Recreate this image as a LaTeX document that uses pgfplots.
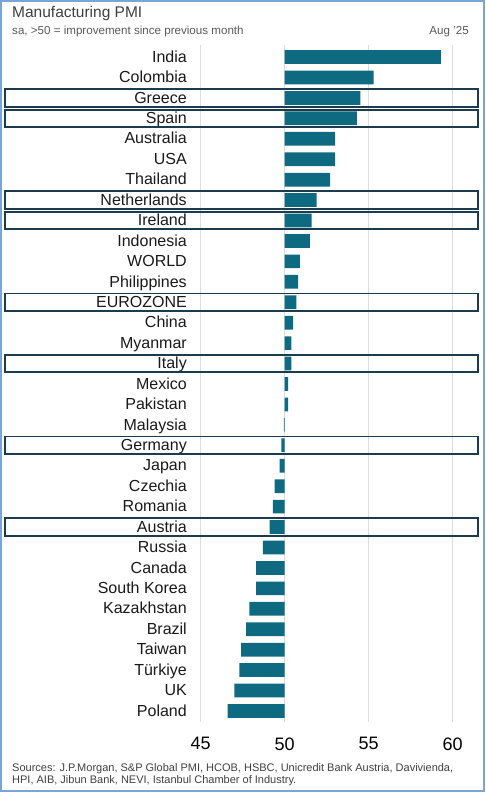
\documentclass[border=0pt]{standalone}
\usepackage{fontspec}
\setmainfont{Liberation Sans}
\usepackage{pgfplots}
\usepackage{pgfplotstable}
\pgfplotsset{compat=1.18}
\definecolor{barc}{HTML}{0E6A80}
\definecolor{boxc}{HTML}{1C3B4C}
\definecolor{framec}{HTML}{7AA6D4}
\definecolor{gridc}{HTML}{DCDCDC}
\definecolor{titlec}{HTML}{404040}
\definecolor{subc}{HTML}{595959}

% pos: vertical slot (32 = top row)
\pgfplotstableread{
pos pmi
32 59.3
31 55.3
30 54.5
29 54.3
28 53.0
27 53.0
26 52.7
25 51.9
24 51.6
23 51.5
22 50.9
21 50.8
20 50.7
19 50.5
18 50.4
17 50.4
16 50.2
15 50.2
14 49.95
13 49.8
12 49.7
11 49.4
10 49.3
9 49.1
8 48.7
7 48.3
6 48.3
5 47.9
4 47.7
3 47.4
2 47.3
1 47.0
0 46.6
}\pmidata

\begin{document}
\begin{tikzpicture}[x=1pt,y=1pt]
\useasboundingbox (0,0) rectangle (485,792);
\draw[framec, line width=1.5pt] (0.9,0.9) rectangle (484.1,791.1);
\node[anchor=base west, text=titlec, font=\fontsize{15.5}{18}\selectfont, inner sep=0pt] at (12,774) {Manufacturing PMI};
\node[anchor=base west, text=subc, font=\fontsize{11.6}{13}\selectfont, inner sep=0pt] at (12,757) {sa, >50 = improvement since previous month};
\node[anchor=base east, text=subc, font=\fontsize{11.6}{13}\selectfont, inner sep=0pt] at (469,757) {Aug ’25};
\node[anchor=base west, text=titlec, font=\fontsize{11}{12}\selectfont, inner sep=0pt] at (12,20) {Sources: J.P.Morgan, S\&P Global PMI, HCOB, HSBC, Unicredit Bank Austria, Davivienda,};
\node[anchor=base west, text=titlec, font=\fontsize{11}{12}\selectfont, inner sep=0pt] at (12,9) {HPI, AIB, Jibun Bank, NEVI, Istanbul Chamber of Industry.};
\begin{axis}[
  at={(192.3pt,70pt)}, anchor=south west,
  scale only axis, width=285.6pt, height=677pt,
  xmin=-5.5, xmax=11.5, ymin=-0.54, ymax=32.59,
  axis line style={draw=none},
  major tick length=0pt,
  xtick={-5,0,5,10}, xticklabels={45,50,55,60},
  ytick={0,1,...,32},
  yticklabels={Poland,UK,Türkiye,Taiwan,Brazil,Kazakhstan,South Korea,Canada,Russia,Austria,Romania,Czechia,Japan,Germany,Malaysia,Pakistan,Mexico,Italy,Myanmar,China,EUROZONE,Philippines,WORLD,Indonesia,Ireland,Netherlands,Thailand,USA,Australia,Spain,Greece,Colombia,India},
  xmajorgrids, ymajorgrids=false,
  major grid style={gridc, line width=1.3pt},
  xticklabel style={font=\fontsize{18}{20}\selectfont, text=black, yshift=-12pt},
  yticklabel style={font=\fontsize{16}{18}\selectfont, text=black!90, xshift=-2pt, anchor=east, text height=11.5pt, text depth=3.5pt, yshift=-1.2pt},
  clip=false,
]
\addplot[xbar, bar width=13.7pt, bar shift=0pt, fill=barc, draw=none] table[x expr=\thisrow{pmi}-50, y=pos] {\pmidata};
\draw[boxc, line width=1.9pt] (axis cs:-16.65,29.57) rectangle (axis cs:11.5,30.43);
\draw[boxc, line width=1.9pt] (axis cs:-16.65,28.57) rectangle (axis cs:11.5,29.43);
\draw[boxc, line width=1.9pt] (axis cs:-16.65,24.57) rectangle (axis cs:11.5,25.43);
\draw[boxc, line width=1.9pt] (axis cs:-16.65,23.57) rectangle (axis cs:11.5,24.43);
\draw[boxc, line width=1.9pt] (axis cs:-16.65,19.57) rectangle (axis cs:11.5,20.43);
\draw[boxc, line width=1.9pt] (axis cs:-16.65,16.57) rectangle (axis cs:11.5,17.43);
\draw[boxc, line width=1.9pt] (axis cs:-16.65,12.57) rectangle (axis cs:11.5,13.43);
\draw[boxc, line width=1.9pt] (axis cs:-16.65,8.57) rectangle (axis cs:11.5,9.43);
\end{axis}
\end{tikzpicture}
\end{document}
